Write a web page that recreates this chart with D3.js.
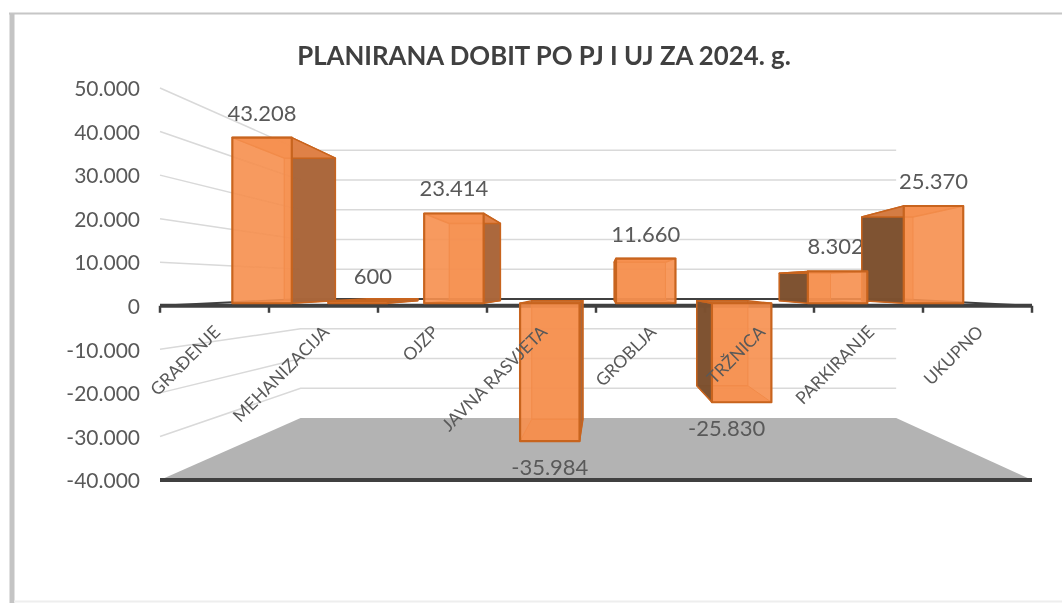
<!doctype html>
<html lang="hr">
<head>
    <meta charset="UTF-8">
    <title>Planirana dobit</title>
    <style>
        html, body { margin: 0; padding: 0; background: #fff; }
        svg { display: block; filter: blur(0.4px); }
        text { font-family: Lato, "Open Sans", sans-serif; }
    </style>
</head>
<body>
    <svg width="1062" height="603"></svg>
    <script src="https://cdn.jsdelivr.net/npm/d3@7"></script>
    <script>
        const categories = ["GRAĐENJE", "MEHANIZACIJA", "OJZP", "JAVNA RASVJETA", "GROBLJA", "TRŽNICA", "PARKIRANJE", "UKUPNO"];
        const values = [43208, 600, 23414, -35984, 11660, -25830, 8302, 25370];
        const yTicks = [-40000, -30000, -20000, -10000, 0, 10000, 20000, 30000, 40000, 50000];
        const chartTitle = "PLANIRANA DOBIT PO PJ I UJ ZA 2024. g.";

        const svg = d3.select("svg");
        const fmt = d3.formatLocale({decimal: ",", thousands: ".", grouping: [3], currency: ["", ""], minus: "-"}).format(",d");

        // front plane of the 3d box
        const x = d3.scaleBand().domain(categories).range([161, 1033]).paddingInner(0.38).paddingOuter(0.19);
        const slot = d3.scaleLinear().domain([0, categories.length]).range([160, 1032]);
        const y = d3.scaleLinear().domain([-40000, 50000]).range([480, 88]);

        // perspective: everything shrinks towards one vanishing point
        const vp = {x: 603.5, y: 284.6};
        const wallDepth = 0.683, barFront = 0.88, barBack = 0.757;
        const project = (px, py, s) => [vp.x + (px - vp.x) * s, vp.y + (py - vp.y) * s];
        const pts = list => list.map(p => p.join(",")).join(" ");

        // frame
        svg.append("line").attr("x1", 9).attr("x2", 1062).attr("y1", 13.5).attr("y2", 13.5).attr("stroke", "#c6c6c6").attr("stroke-width", 2);
        svg.append("line").attr("x1", 12).attr("x2", 12).attr("y1", 14).attr("y2", 603).attr("stroke", "#c4c4c4").attr("stroke-width", 5);
        svg.append("line").attr("x1", 14).attr("x2", 1062).attr("y1", 601.5).attr("y2", 601.5).attr("stroke", "#eeeeee").attr("stroke-width", 2);

        svg.append("text").attr("x", 544).attr("y", 65).attr("text-anchor", "middle")
            .attr("font-size", 25.8).attr("font-weight", 700).attr("fill", "#404040").text(chartTitle);

        const [left, right] = slot.range();

        // floor
        svg.append("polygon").attr("fill", "#b3b3b3").attr("points", pts([
            project(left, y(-40000), 1), project(right, y(-40000), 1),
            project(right, y(-40000), wallDepth), project(left, y(-40000), wallDepth)]));

        // gridlines on left wall and back wall
        svg.append("g").selectAll("polyline").data(yTicks.filter(d => d !== 0 && d !== -40000)).join("polyline")
            .attr("fill", "none").attr("stroke", "#d9d9d9").attr("stroke-width", 1.5)
            .attr("points", d => pts([project(left, y(d), 1), project(left, y(d), wallDepth), project(right, y(d), wallDepth)]));

        // zero plane
        svg.append("polyline").attr("fill", "none").attr("stroke", "#404040").attr("stroke-width", 2)
            .attr("points", pts([project(left, y(0), 1), project(left, y(0), wallDepth), project(right, y(0), wallDepth), project(right, y(0), 1)]));
        svg.append("line").attr("x1", left).attr("x2", right).attr("y1", y(0)).attr("y2", y(0)).attr("stroke", "#404040").attr("stroke-width", 4);
        svg.append("g").selectAll("line").data(d3.range(categories.length + 1)).join("line")
            .attr("x1", slot).attr("x2", slot).attr("y1", y(0)).attr("y2", y(0) + 7)
            .attr("stroke", "#404040").attr("stroke-width", 2.5);
        svg.append("line").attr("x1", left).attr("x2", right).attr("y1", y(-40000)).attr("y2", y(-40000)).attr("stroke", "#404040").attr("stroke-width", 4);

        // y axis, labels only
        const yAxis = svg.append("g").attr("transform", "translate(140,1)")
            .call(d3.axisLeft(y).tickValues(yTicks).tickFormat(fmt).tickSize(0).tickPadding(0));
        yAxis.select(".domain").remove();
        yAxis.selectAll("text").attr("font-size", 21).attr("fill", "#595959").style("font-family", "Lato");

        // value labels go under the bars (8.302 is cut by the next bar)
        const labelOffset = d => d < 0 ? 34 : -17;
        svg.append("g").selectAll("text").data(values).join("text")
            .attr("x", (d, i) => project(x(categories[i]) + x.bandwidth() / 2, y(d), barFront)[0] + (i === 5 ? -15 : i === 1 ? 15 : i === 6 ? -2 : 0))
            .attr("y", d => project(0, y(d), barFront)[1] + labelOffset(d))
            .attr("text-anchor", "middle").attr("font-size", 22).attr("fill", "#595959")
            .text(fmt);

        // bars, right to left so the nearer front faces cover the side faces
        const edge = "#c8641e";
        d3.range(categories.length).reverse().forEach(i => {
            const v = values[i];
            const x0 = x(categories[i]), x1 = x0 + x.bandwidth();
            const yT = y(Math.max(v, 0)), yB = y(Math.min(v, 0));
            const f = (px, py) => project(px, py, barFront), b = (px, py) => project(px, py, barBack);
            const g = svg.append("g").attr("stroke", edge).attr("stroke-linejoin", "round");

            // back and bottom, only seen through the front
            g.append("polygon").attr("fill", "#f0894a").attr("fill-opacity", 0.5).attr("stroke-width", 1)
                .attr("points", pts([b(x0, yT), b(x1, yT), b(x1, yB), b(x0, yB)]));
            g.append("polygon").attr("fill", "#e8823f").attr("fill-opacity", 0.6).attr("stroke-width", 1)
                .attr("points", pts([f(x0, yB), f(x1, yB), b(x1, yB), b(x0, yB)]));

            // side wall facing the centre of the view
            const leftOfVp = (x0 + x1) / 2 < vp.x;
            const sx = leftOfVp ? x1 : x0;
            g.append("polygon").attr("fill", leftOfVp ? "#a8653a" : "#7b4f2e").attr("fill-opacity", 0.97).attr("stroke-width", 1.5)
                .attr("points", pts([f(sx, yT), b(sx, yT), b(sx, yB), f(sx, yB)]));

            // top: seen from above only when the bar hangs under the zero plane
            g.append("polygon").attr("fill", v < 0 || Math.abs(v) < 1000 ? "#bd611f" : "#f0894a").attr("fill-opacity", 0.75).attr("stroke-width", 1.5)
                .attr("points", pts([f(x0, yT), f(x1, yT), b(x1, yT), b(x0, yT)]));

            // front
            g.append("polygon").attr("fill", "#f68f4e").attr("fill-opacity", 0.9).attr("stroke-width", 2.2)
                .attr("points", pts([f(x0, yT), f(x1, yT), f(x1, yB), f(x0, yB)]));
        });

        // category labels on top of everything
        const xAxis = svg.append("g").call(d3.axisBottom(x).tickSize(0));
        xAxis.select(".domain").remove();
        xAxis.selectAll("text")
            .attr("text-anchor", "end").attr("dy", 0).attr("y", 0)
            .attr("transform", "translate(6,333) rotate(-45)")
            .attr("font-size", 17.5).attr("fill", "#595959").style("font-family", "Lato");
    </script>
</body>
</html>
